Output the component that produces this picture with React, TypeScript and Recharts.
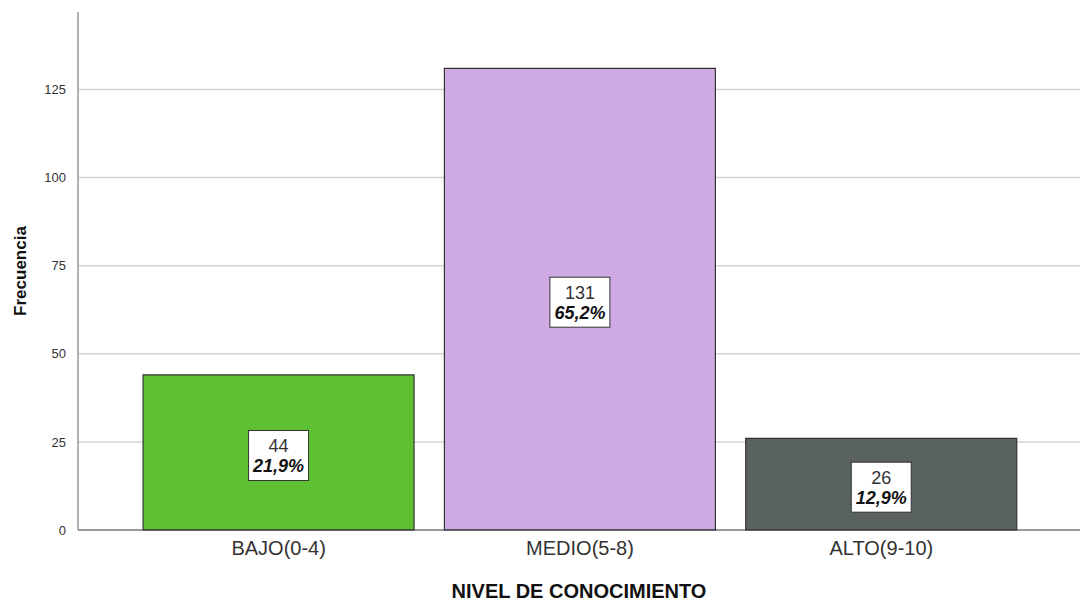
import React from "react";
import { BarChart, Bar, XAxis, YAxis, CartesianGrid, Cell, LabelList } from "recharts";

const categories = ["BAJO(0-4)", "MEDIO(5-8)", "ALTO(9-10)"];
const counts = [44, 131, 26];
const percents = ["21,9%", "65,2%", "12,9%"];
const colors = ["#5DC133", "#CEABE4", "#5A625D"];
const yTicks = [0, 25, 50, 75, 100, 125];
const yMax = 147;

const data = categories.map((c, i) => ({ name: c, value: counts[i], pct: percents[i] }));

const FONT = "'Liberation Sans', Arial, sans-serif";

const BoxLabel = (props: any) => {
  const { x, y, width, height, index } = props;
  const cx = x + width / 2;
  const cy = y + height / 2 + 3;
  const w = 60;
  const h = 50;
  return (
    <g>
      <rect x={cx - w / 2} y={cy - h / 2} width={w} height={h} fill="#ffffff" stroke="#333333" strokeWidth={1} />
      <text x={cx} y={cy - 3} textAnchor="middle" fontFamily={FONT} fontSize={18} fill="#333">
        {counts[index]}
      </text>
      <text x={cx} y={cy + 17} textAnchor="middle" fontFamily={FONT} fontSize={18} fontWeight="bold" fontStyle="italic" fill="#111">
        {percents[index]}
      </text>
    </g>
  );
};

const gridGen = (args: any) => {
  const yAxis = args && args.yAxis;
  if (yAxis && typeof yAxis.scale === "function") {
    return yTicks.slice(1).map((t) => yAxis.scale(t));
  }
  const off = (args && args.offset) || { top: 12, height: 518 };
  return yTicks.slice(1).map((t) => off.top + off.height * (1 - t / yMax));
};

export default function App() {
  return (
    <div style={{ position: "absolute", left: 0, top: 0, background: "#fff" }}>
      <BarChart
        width={1082}
        height={604}
        data={data}
        margin={{ top: 12, right: 2, left: 0, bottom: 0 }}
        barCategoryGap="5%"
      >
        <CartesianGrid
          horizontal={true}
          vertical={false}
          stroke="#d4d4d4"
          strokeWidth={1.5}
          horizontalCoordinatesGenerator={gridGen}
        />
        <XAxis
          dataKey="name"
          height={74}
          padding={{ left: 50, right: 48 }}
          tickLine={false}
          axisLine={{ stroke: "#333", strokeWidth: 1 }}
          tick={{ fontFamily: FONT, fontSize: 20, fill: "#333" }}
          tickMargin={5}
          label={{ value: "NIVEL DE CONOCIMIENTO", position: "insideBottom", offset: 6, style: { fontFamily: FONT, fontSize: 20, fontWeight: "bold", fill: "#111" } }}
        />
        <YAxis
          width={78}
          domain={[0, yMax]}
          ticks={yTicks}
          interval={0}
          tickLine={false}
          axisLine={{ stroke: "#999", strokeWidth: 1.5 }}
          tick={{ fontFamily: FONT, fontSize: 13, fill: "#333" }}
          tickMargin={6}
          label={{ value: "Frecuencia", angle: -90, position: "insideLeft", offset: 20, style: { textAnchor: "middle", fontFamily: FONT, fontSize: 17, fontWeight: "bold", fill: "#111" } }}
        />
        <Bar dataKey="value" isAnimationActive={false} stroke="#333" strokeWidth={1.2}>
          {data.map((d, i) => (
            <Cell key={d.name} fill={colors[i]} />
          ))}
          <LabelList dataKey="value" content={<BoxLabel />} />
        </Bar>
      </BarChart>
    </div>
  );
}
